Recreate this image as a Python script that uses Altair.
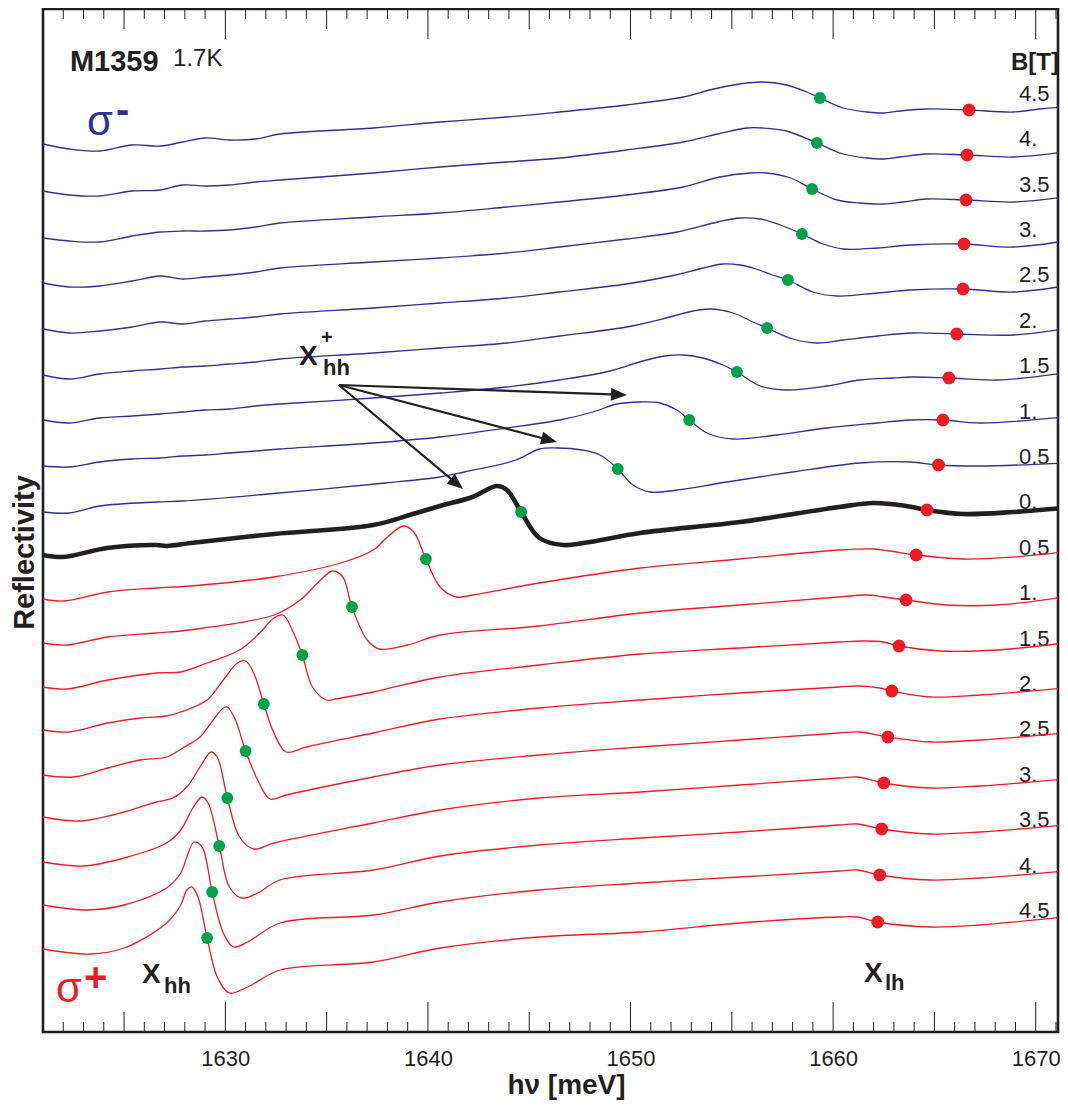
import altair as alt
import pandas as pd

INK = "#231F20"
BLUE = "#2E3192"
RED = "#ED1C24"
GREEN = "#00A14B"
FONT = "Liberation Sans"

W, H = 1015, 1023
E_DOMAIN = [1621.0, 1671.1]
R_DOMAIN = [0, 1023]

# ---- sigma- spectra (photon energy meV, reflectivity arb. units incl. vertical offset)
sm_45 = [[1621.0,888],[1622.3,883],[1623.8,881],[1625.4,887],[1626.8,886],[1627.9,890],[1629.0,894],[1630.2,892],[1631.5,893],[1632.7,898],[1637.3,904],[1640.6,910],[1643.9,915],[1646.5,920],[1649.8,927],[1652.6,935],[1653.9,942],[1655.4,948],[1656.5,950],[1657.7,947],[1658.7,940],[1659.35,934],[1660.5,924],[1661.7,920],[1662.5,919],[1663.3,921],[1664.6,923],[1666.7,922],[1668.9,920],[1670.2,923],[1671.4,925]]
sm_40 = [[1621.0,841],[1622.3,837],[1623.8,836],[1625.4,841],[1626.8,842],[1627.9,847],[1629.0,846],[1630.2,847],[1631.5,850],[1632.7,852],[1637.3,859],[1640.6,865],[1643.9,870],[1646.5,874],[1649.8,882],[1652.6,890],[1654.3,898],[1655.75,904],[1656.5,904],[1657.7,901],[1659.2,889],[1660.5,878],[1661.7,874],[1662.5,873],[1663.3,875],[1664.6,878],[1666.6,877],[1668.9,875],[1671.4,880]]
sm_35 = [[1621.0,794],[1622.3,791],[1623.8,790],[1625.4,796],[1626.8,800],[1627.9,801],[1629.0,801],[1630.2,802],[1631.5,805],[1632.7,809],[1637.3,815],[1640.6,819],[1643.9,825],[1646.5,830],[1649.8,837],[1652.6,845],[1654.4,855],[1655.9,859],[1656.7,859],[1657.9,854],[1658.96,843],[1660.2,832],[1661.3,829],[1662.5,828],[1663.45,830],[1664.6,833],[1666.56,832],[1668.9,830],[1671.4,835]]
sm_30 = [[1621.0,749],[1622.3,745],[1623.8,746],[1625.4,751],[1626.8,756],[1627.9,753],[1629.0,755],[1630.2,757],[1631.5,760],[1632.7,764],[1637.3,770],[1640.6,774],[1643.9,779],[1646.5,785],[1649.8,793],[1652.3,800],[1654.3,810],[1655.4,814],[1656.4,813],[1657.4,807],[1658.46,798],[1659.5,788],[1660.5,783],[1662.2,784],[1663.8,787],[1666.46,788],[1668.9,785],[1671.4,791]]
sm_25 = [[1621.0,703],[1622.3,699],[1623.8,701],[1625.4,705],[1626.8,710],[1627.9,708],[1629.0,711],[1630.2,713],[1631.5,715],[1632.7,718],[1637.3,724],[1640.6,729],[1643.9,734],[1646.5,740],[1649.8,748],[1652.0,756],[1653.6,764],[1654.56,768],[1655.4,767],[1656.2,763],[1657.0,757],[1657.77,752],[1659.0,740],[1660.2,736],[1662.2,739],[1663.8,742],[1666.41,743],[1668.9,740],[1671.4,746]]
sm_20 = [[1621.0,657],[1622.3,653],[1623.8,658],[1625.4,661],[1626.8,663],[1627.9,665],[1629.0,666],[1630.2,668],[1631.5,670],[1632.7,673],[1637.3,679],[1640.6,684],[1643.9,689],[1646.5,696],[1649.8,705],[1651.95,715],[1653.1,721],[1653.9,723],[1655.06,719],[1656.04,710],[1656.74,704],[1658.0,693],[1659.2,689],[1660.5,692],[1662.2,696],[1663.9,699],[1666.1,698],[1668.9,697],[1671.4,703]]
sm_15 = [[1621.0,612],[1622.3,609],[1623.8,614],[1625.4,616],[1626.8,618],[1627.9,620],[1629.0,622],[1630.2,623],[1631.5,626],[1632.7,628],[1637.3,634],[1640.6,639],[1643.9,645],[1646.5,652],[1649.0,661],[1650.6,671],[1651.7,676],[1652.6,677],[1653.58,674],[1654.56,667],[1655.25,660],[1656.4,646],[1657.7,642],[1659.7,646],[1661.3,652],[1662.95,654],[1663.9,655],[1665.72,654],[1668.1,652],[1671.4,659]]
sm_10 = [[1621.0,566],[1622.3,565],[1623.8,570],[1625.4,573],[1626.8,574],[1627.9,576],[1629.0,577],[1630.2,579],[1631.5,581],[1632.7,583],[1637.3,589],[1640.6,595],[1643.9,604],[1646.5,612],[1648.15,620],[1649.33,628],[1650.47,630],[1651.45,629],[1652.29,622],[1652.9,612],[1653.77,599],[1655.06,593],[1657.23,597],[1659.7,604],[1662.16,609],[1663.8,612],[1665.42,612],[1667.25,609],[1671.4,615]]
sm_05 = [[1621.0,520],[1622.3,519],[1623.8,526],[1626.6,530],[1627.9,531],[1632.1,538],[1637.9,549],[1640.6,555],[1641.8,560],[1644.35,572],[1645.5,583],[1646.4,584],[1647.6,582],[1648.5,577],[1649.37,563],[1650.12,547],[1650.96,540],[1652.3,542],[1654.76,550],[1658.0,560],[1661.33,569],[1663.8,570],[1665.2,567],[1667.25,566],[1671.4,569]]

# ---- zero field
b_00 = [[1621.0,477],[1622.0,475],[1624.16,484],[1626.6,487],[1627.1,486],[1628.3,489],[1632.4,498],[1637.3,507],[1639.1,517],[1640.6,526],[1642.2,535],[1643.4,546],[1643.9,542],[1644.6,520],[1645.5,494],[1646.7,487],[1648.0,490],[1650.47,499],[1655.4,510],[1660.3,525],[1662.0,529],[1663.6,526],[1664.63,522],[1666.4,518],[1668.9,520],[1671.4,524]]

# ---- sigma+ spectra
sp_05 = [[1621.0,433],[1622.0,431],[1624.2,440],[1626.6,444],[1628.3,446],[1632.4,455],[1635.7,469],[1637.3,482],[1638.0,495],[1638.8,506],[1639.3,500],[1639.9,473],[1640.6,445],[1641.4,435],[1642.2,437],[1645.5,449],[1650.5,464],[1655.4,473],[1660.3,482],[1662.0,483],[1662.8,481],[1664.1,477],[1666.4,473],[1668.9,475],[1671.4,480]]
sp_10 = [[1621.0,389],[1622.2,387],[1624.2,395],[1626.6,399],[1628.2,402],[1632.4,417],[1633.7,432],[1634.7,452],[1635.3,461],[1635.8,455],[1636.25,425],[1637.0,392],[1637.6,383],[1639.0,387],[1640.6,397],[1645.5,406],[1650.5,419],[1655.4,427],[1660.3,435],[1661.7,437],[1662.5,435],[1663.6,432],[1665.6,427],[1668.1,427],[1671.4,435]]
sp_15 = [[1621.0,345],[1622.2,343],[1624.2,352],[1626.6,359],[1627.8,360],[1629.1,369],[1630.7,382],[1631.7,399],[1632.4,414],[1632.85,417],[1633.3,402],[1633.8,377],[1634.3,345],[1635.0,332],[1635.7,334],[1637.3,340],[1640.6,355],[1645.5,367],[1650.5,378],[1655.4,384],[1660.3,390],[1661.5,391],[1662.5,390],[1663.25,386],[1665.3,381],[1668.1,382],[1671.4,389]]
sp_20 = [[1621.0,302],[1622.3,300],[1624.2,309],[1625.8,314],[1627.1,316],[1627.8,320],[1629.1,332],[1629.9,352],[1630.6,369],[1631.0,371],[1631.4,359],[1631.9,328],[1632.4,299],[1633.0,280],[1634.0,285],[1637.3,299],[1640.6,313],[1645.5,324],[1650.5,332],[1655.4,339],[1660.3,345],[1661.3,346],[1662.3,344],[1662.9,341],[1664.8,335],[1667.25,337],[1671.4,344]]
sp_25 = [[1621.0,257],[1622.5,255],[1624.2,264],[1625.8,272],[1627.1,275],[1627.9,284],[1628.75,295],[1629.4,312],[1629.9,324],[1630.1,325],[1630.5,312],[1631.0,281],[1631.6,252],[1632.2,233],[1633.0,237],[1637.3,255],[1640.6,267],[1645.5,277],[1650.5,285],[1655.4,292],[1660.3,299],[1661.3,300],[1662.7,295],[1664.8,290],[1667.25,292],[1671.4,299]]
sp_30 = [[1621.0,215],[1622.8,211],[1625.0,220],[1626.6,230],[1627.4,234],[1628.1,245],[1628.75,265],[1629.3,280],[1629.6,275],[1630.1,234],[1630.7,195],[1631.4,183],[1632.4,189],[1637.3,209],[1640.6,222],[1645.5,234],[1650.5,240],[1655.4,247],[1660.3,254],[1661.2,255],[1662.5,249],[1664.8,244],[1667.25,246],[1671.4,253]]
sp_35 = [[1621.0,170],[1623.0,166],[1625.0,174],[1627.1,189],[1627.8,202],[1628.4,224],[1628.85,235],[1629.15,229],[1629.7,186],[1630.2,145],[1630.8,134],[1631.6,139],[1632.7,152],[1637.3,162],[1640.6,176],[1645.5,187],[1650.5,194],[1655.4,200],[1660.3,207],[1661.2,208],[1662.4,203],[1664.8,198],[1667.25,200],[1671.4,207]]
sp_40 = [[1621.0,127],[1623.2,122],[1625.0,127],[1627.1,144],[1627.8,159],[1628.1,175],[1628.45,190],[1628.85,185],[1629.35,140],[1629.9,99],[1630.4,85],[1631.1,90],[1632.7,109],[1637.3,117],[1640.6,130],[1645.5,142],[1650.5,149],[1655.4,155],[1660.3,161],[1661.2,162],[1662.3,157],[1664.8,152],[1667.25,154],[1671.4,161]]
sp_45 = [[1621.0,83],[1623.3,78],[1625.0,84],[1627.1,109],[1627.8,127],[1628.1,142],[1628.35,145],[1628.65,135],[1629.1,94],[1629.6,55],[1630.2,39],[1631.1,45],[1632.7,62],[1637.3,70],[1640.6,84],[1645.5,95],[1650.5,100],[1655.4,109],[1660.3,115],[1661.2,115],[1662.2,110],[1664.8,105],[1667.25,107],[1671.4,115]]

sigma_minus = [("4.5", sm_45), ("4.", sm_40), ("3.5", sm_35), ("3.", sm_30), ("2.5", sm_25),
               ("2.", sm_20), ("1.5", sm_15), ("1.", sm_10), ("0.5", sm_05)]
sigma_plus = [("0.5", sp_05), ("1.", sp_10), ("1.5", sp_15), ("2.", sp_20), ("2.5", sp_25),
              ("3.", sp_30), ("3.5", sp_35), ("4.", sp_40), ("4.5", sp_45)]

# X_hh (green) and X_lh (red) marker positions, top curve to bottom curve
xhh_E = [1659.35, 1659.2, 1658.96, 1658.46, 1657.77, 1656.74, 1655.25, 1652.9, 1649.37, 1644.6,
         1639.9, 1636.25, 1633.8, 1631.9, 1631.0, 1630.1, 1629.7, 1629.35, 1629.1]
xhh_R = [934, 889, 843, 798, 752, 704, 660, 612, 563, 520, 473, 425, 377, 328, 281, 234, 186, 140, 94]
xlh_E = [1666.71, 1666.61, 1666.56, 1666.46, 1666.41, 1666.1, 1665.72, 1665.42, 1665.2, 1664.63,
         1664.1, 1663.6, 1663.25, 1662.9, 1662.7, 1662.5, 1662.4, 1662.3, 1662.2]
xlh_R = [922, 877, 832, 788, 743, 698, 654, 612, 567, 522, 477, 432, 386, 341, 295, 249, 203, 157, 110]

# field labels on the right
b_text = ["4.5", "4.", "3.5", "3.", "2.5", "2.", "1.5", "1.", "0.5", "0.",
          "0.5", "1.", "1.5", "2.", "2.5", "3.", "3.5", "4.", "4.5"]
b_R = [931, 886, 840, 795, 750, 704, 659, 613, 568, 523, 477, 432, 386, 341, 296, 250, 205, 159, 114]
b_E = 1669.17

# arrows from the X_hh+ label
arrow_from = (1635.6, 647)
arrow_to_E = [1649.43, 1645.99, 1641.43]
arrow_to_R = [637.3, 592.0, 548.1]
arrow_angle = [92, 104.6, 129.8]

major_ticks = [1630, 1640, 1650, 1660, 1670]
mid_ticks = [1625, 1635, 1645, 1655, 1665]
minor_ticks = [e for e in range(1622, 1672) if e % 5 != 0]

# ------------------------------------------------------------------
rows = []
for b, pts in sigma_minus:
    for e, r in pts:
        rows.append({"E": e, "R": r, "curve": "m" + b, "pol": "σ-"})
for b, pts in sigma_plus:
    for e, r in pts:
        rows.append({"E": e, "R": r, "curve": "p" + b, "pol": "σ+"})
df_thin = pd.DataFrame(rows)
df_zero = pd.DataFrame(b_00, columns=["E", "R"])

x_scale = alt.Scale(domain=E_DOMAIN, nice=False, zero=False)
y_scale = alt.Scale(domain=R_DOMAIN, nice=False, zero=False)

x_axis = alt.Axis(values=major_ticks, format="d", ticks=False, tickSize=0, domain=False, grid=False,
                  labelFont=FONT, labelFontSize=22, labelColor=INK, labelPadding=26,
                  labelBaseline="middle", labelFlush=False,
                  title="hν [meV]", titleFont=FONT, titleFontSize=28, titleFontWeight="bold",
                  titleColor=INK, titleX=523, titleY=61, titleBaseline="alphabetic", titleAlign="center")
y_axis = alt.Axis(ticks=False, labels=False, domain=False, grid=False,
                  title="Reflectivity", titleFont=FONT, titleFontSize=29, titleFontWeight="bold",
                  titleColor=INK, titleAngle=270, titleX=-10, titleY=543,
                  titleBaseline="alphabetic", titleAlign="center")

X = alt.X("E:Q", scale=x_scale, axis=x_axis)
Y = alt.Y("R:Q", scale=y_scale, axis=y_axis)


def txt(text, e, r, size, weight="normal", color=INK, align="left"):
    d = pd.DataFrame({"E": [e], "R": [r], "t": [text]})
    return alt.Chart(d).mark_text(align=align, baseline="alphabetic", font=FONT, fontSize=size,
                                  fontWeight=weight, color=color).encode(x=X, y=Y, text="t:N")


labels_b = alt.Chart(pd.DataFrame({"E": [b_E] * len(b_R), "R": b_R, "t": b_text})).mark_text(
    align="left", baseline="alphabetic", font=FONT, fontSize=22, color=INK
).encode(x=X, y=Y, text="t:N")

thin = alt.Chart(df_thin).mark_line(strokeWidth=1.3, interpolate="catmull-rom", clip=True).encode(
    x=X, y=Y,
    color=alt.Color("pol:N", scale=alt.Scale(domain=["σ-", "σ+"], range=[BLUE, RED]), legend=None),
    detail="curve:N",
)
zero = alt.Chart(df_zero).mark_line(strokeWidth=4.6, color=INK, interpolate="catmull-rom",
                                    clip=True).encode(x=X, y=Y)

green_dots = alt.Chart(pd.DataFrame({"E": xhh_E, "R": xhh_R})).mark_circle(
    size=140, color=GREEN, opacity=1).encode(x=X, y=Y)
red_dots = alt.Chart(pd.DataFrame({"E": xlh_E, "R": xlh_R})).mark_circle(
    size=165, color=RED, opacity=1).encode(x=X, y=Y)

arrow_df = pd.DataFrame({"E": [arrow_from[0]] * 3, "R": [arrow_from[1]] * 3,
                         "E2": arrow_to_E, "R2": arrow_to_R})
arrow_lines = alt.Chart(arrow_df).mark_rule(strokeWidth=2.2, color=INK).encode(
    x=X, y=Y, x2="E2:Q", y2="R2:Q")
heads = alt.Chart(pd.DataFrame({"E": arrow_to_E, "R": arrow_to_R, "a": arrow_angle})).mark_point(
    shape="M0,-1L-0.8,1L0.8,1Z", filled=True, size=256, color=INK, opacity=1, strokeWidth=0
).encode(x=X, y=Y, angle=alt.Angle("a:Q", scale=None))

texts = [
    txt("M1359", 1622.33, 961, 29, "bold"),
    txt("1.7K", 1627.42, 966, 24),
    txt("B[T]", 1668.78, 962, 24, "bold"),
    txt("σ", 1623.17, 897, 42, color=BLUE),
    txt("-", 1624.6, 909, 40, "bold", color=BLUE),
    txt("σ", 1621.64, 30, 42, color=RED),
    txt("+", 1623.02, 41, 40, "bold", color=RED),
    txt("X", 1625.89, 49, 28, "bold"),
    txt("hh", 1626.97, 39, 22, "bold"),
    txt("X", 1661.52, 50, 28, "bold"),
    txt("lh", 1662.56, 42, 22, "bold"),
    txt("X", 1633.64, 667, 28, "bold"),
    txt("hh", 1634.82, 657, 22, "bold"),
    txt("+", 1634.72, 688, 20, "bold"),
]


def tick_layer(vals, length, top):
    d = pd.DataFrame({"E": vals})
    if top:
        yy, yy2 = alt.value(0), alt.value(length)
    else:
        yy, yy2 = alt.value(H), alt.value(H - length)
    return alt.Chart(d).mark_rule(color=INK, strokeWidth=1).encode(x=X, y=yy, y2=yy2)


ticks = [tick_layer(major_ticks, 30, False), tick_layer(mid_ticks, 20, False), tick_layer(minor_ticks, 10, False),
         tick_layer(major_ticks, 30, True), tick_layer(mid_ticks, 20, True), tick_layer(minor_ticks, 10, True)]

chart = alt.layer(labels_b, thin, zero, green_dots, red_dots, arrow_lines, heads, *texts, *ticks).properties(
    width=W, height=H,
    padding={"left": 35, "top": 1, "right": 2, "bottom": 68},
    autosize=alt.AutoSizeParams(type="none"),
).configure_view(stroke=INK, strokeWidth=2.6)

chart.save("out.html", embed_options={"renderer": "svg", "actions": False})
